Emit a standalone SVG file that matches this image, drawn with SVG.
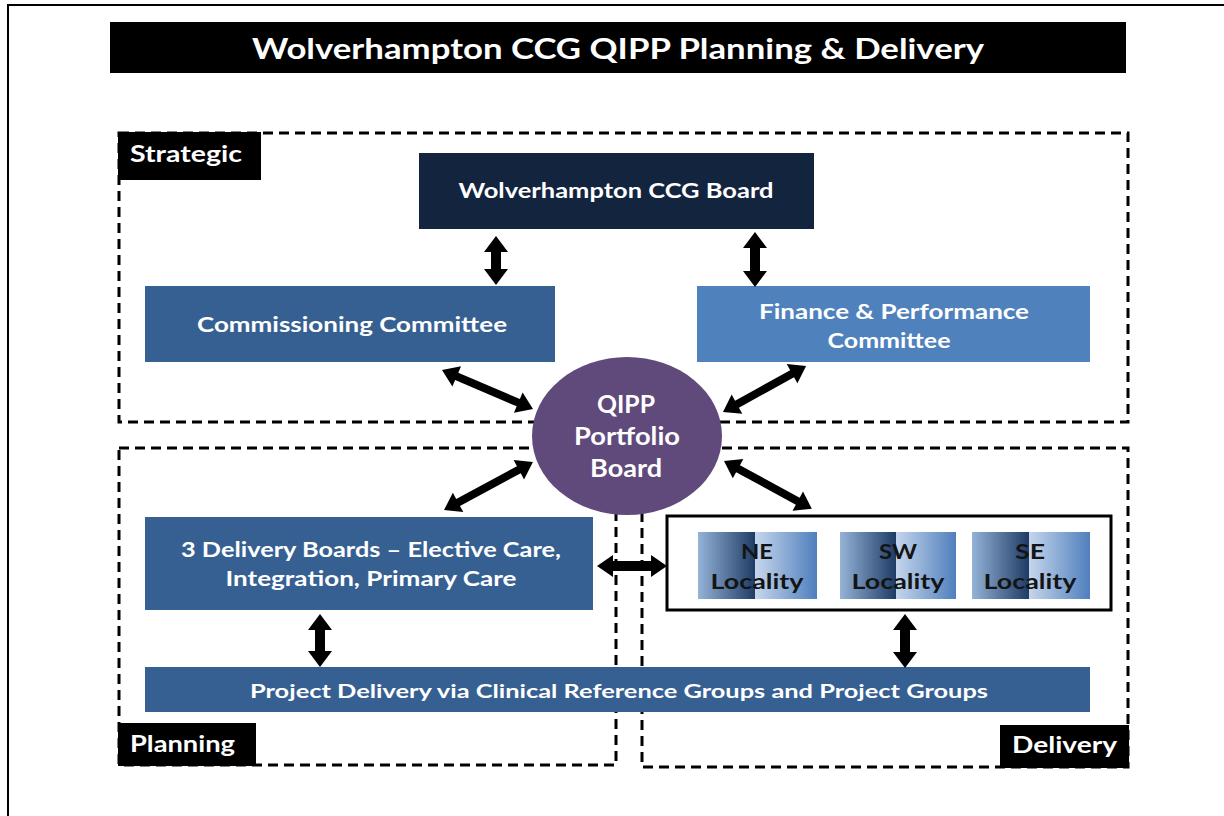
<svg xmlns="http://www.w3.org/2000/svg" width="1224" height="816" viewBox="0 0 1224 816">
  <style>
    text { font-family: Lato, "Liberation Sans", sans-serif; font-weight: bold; }
    .wt { fill: #ffffff; }
    .bk { fill: #141414; }
    .zone { fill: none; stroke: #000; stroke-width: 3; stroke-dasharray: 10 6; }
    .tag { fill: #000; }
    .arrow { fill: #000; }
    .mid { fill: #376092; }
  </style>
  <defs>
    <linearGradient id="loc" x1="0" y1="0" x2="1" y2="0">
      <stop offset="0" stop-color="#95b3d7"/>
      <stop offset="0.48" stop-color="#1f3c66"/>
      <stop offset="0.48" stop-color="#c6d6ec"/>
      <stop offset="1" stop-color="#4f7fbd"/>
    </linearGradient>
  </defs>

  <!-- page frame -->
  <path d="M8,816 V5 H1224" fill="none" stroke="#000" stroke-width="2"/>

  <!-- title bar -->
  <g id="title">
    <rect x="110" y="22" width="1016" height="51" fill="#000"/>
    <text x="618" y="59" font-size="28" text-anchor="middle" class="wt" textLength="732" lengthAdjust="spacingAndGlyphs">Wolverhampton CCG QIPP Planning  &amp; Delivery</text>
  </g>

  <!-- zones -->
  <g id="zone-strategic">
    <rect class="zone" x="119" y="133" width="1009" height="289"/>
    <rect class="tag" x="118" y="132" width="143" height="48"/>
    <text x="130" y="162" font-size="22" class="wt" textLength="112" lengthAdjust="spacingAndGlyphs">Strategic</text>
  </g>
  <g id="zone-planning">
    <rect class="zone" x="119" y="448" width="497" height="317"/>
    <rect class="tag" x="118" y="723" width="138" height="43"/>
    <text x="130" y="752" font-size="22" class="wt" textLength="105" lengthAdjust="spacingAndGlyphs">Planning</text>
  </g>
  <g id="zone-delivery">
    <rect class="zone" x="642" y="448" width="486" height="319"/>
    <rect class="tag" x="1000" y="725" width="129" height="43"/>
    <text x="1012" y="753" font-size="22" class="wt" textLength="105" lengthAdjust="spacingAndGlyphs">Delivery</text>
  </g>

  <!-- nodes -->
  <g id="ccg-board">
    <rect x="419" y="153" width="395" height="76" fill="#13243f"/>
    <text x="616" y="198" font-size="20" text-anchor="middle" class="wt" textLength="315" lengthAdjust="spacingAndGlyphs">Wolverhampton CCG Board</text>
  </g>
  <g id="commissioning">
    <rect class="mid" x="145" y="286" width="410" height="76"/>
    <text x="352" y="332" font-size="20" text-anchor="middle" class="wt" textLength="310" lengthAdjust="spacingAndGlyphs">Commissioning Committee</text>
  </g>
  <g id="finance">
    <rect x="697" y="286" width="393" height="76" fill="#4f81bd"/>
    <text x="894" y="319" font-size="20" text-anchor="middle" class="wt" textLength="270" lengthAdjust="spacingAndGlyphs">Finance &amp; Performance</text>
    <text x="889" y="348" font-size="20" text-anchor="middle" class="wt" textLength="123" lengthAdjust="spacingAndGlyphs">Committee</text>
  </g>
  <g id="qipp">
    <ellipse cx="627" cy="436" rx="95" ry="79" fill="#604a7b"/>
    <text x="626" y="413" font-size="24" text-anchor="middle" class="wt" textLength="58" lengthAdjust="spacingAndGlyphs">QIPP</text>
    <text x="627" y="445" font-size="24" text-anchor="middle" class="wt" textLength="106" lengthAdjust="spacingAndGlyphs">Portfolio</text>
    <text x="626" y="477" font-size="24" text-anchor="middle" class="wt" textLength="72" lengthAdjust="spacingAndGlyphs">Board</text>
  </g>
  <g id="delivery-boards">
    <rect class="mid" x="145" y="517" width="448" height="93"/>
    <text x="371" y="557" font-size="20" text-anchor="middle" class="wt" textLength="380" lengthAdjust="spacingAndGlyphs">3 Delivery Boards – Elective Care,</text>
    <text x="371" y="586" font-size="20" text-anchor="middle" class="wt" textLength="291" lengthAdjust="spacingAndGlyphs">Integration, Primary Care</text>
  </g>
  <g id="localities">
    <rect x="667" y="516" width="444" height="94" fill="#fff" stroke="#000" stroke-width="3"/>
    <g id="ne-locality">
      <rect x="698" y="532" width="119" height="67" fill="url(#loc)"/>
      <text x="757" y="559" font-size="21" text-anchor="middle" class="bk" textLength="32" lengthAdjust="spacingAndGlyphs">NE</text>
      <text x="757" y="589" font-size="21" text-anchor="middle" class="bk" textLength="93" lengthAdjust="spacingAndGlyphs">Locality</text>
    </g>
    <g id="sw-locality">
      <rect x="840" y="532" width="116" height="67" fill="url(#loc)"/>
      <text x="898" y="559" font-size="21" text-anchor="middle" class="bk" textLength="38" lengthAdjust="spacingAndGlyphs">SW</text>
      <text x="898" y="589" font-size="21" text-anchor="middle" class="bk" textLength="93" lengthAdjust="spacingAndGlyphs">Locality</text>
    </g>
    <g id="se-locality">
      <rect x="972" y="532" width="118" height="67" fill="url(#loc)"/>
      <text x="1030" y="559" font-size="21" text-anchor="middle" class="bk" textLength="30" lengthAdjust="spacingAndGlyphs">SE</text>
      <text x="1030" y="589" font-size="21" text-anchor="middle" class="bk" textLength="93" lengthAdjust="spacingAndGlyphs">Locality</text>
    </g>
  </g>
  <g id="project-delivery">
    <rect class="mid" x="145" y="667" width="945" height="45"/>
    <text x="619" y="698" font-size="19" text-anchor="middle" class="wt" textLength="738" lengthAdjust="spacingAndGlyphs">Project Delivery via Clinical Reference Groups and Project Groups</text>
  </g>

  <!-- connectors: double-headed block arrows, drawn along +x then placed -->
  <g id="connectors">
    <path class="arrow" transform="translate(496,236) rotate(90)" d="M0,0 L16,-12 L16,-5 L33,-5 L33,-12 L49,0 L33,12 L33,5 L16,5 L16,12 Z"/>
    <path class="arrow" transform="translate(755,232) rotate(90)" d="M0,0 L16,-12 L16,-5 L39,-5 L39,-12 L55,0 L39,12 L39,5 L16,5 L16,12 Z"/>
    <path class="arrow" transform="translate(442,370) rotate(23.2)" d="M0,0 L16,-11 L16,-4 L83,-4 L83,-11 L99,0 L83,11 L83,4 L16,4 L16,11 Z"/>
    <path class="arrow" transform="translate(723,412) rotate(-29)" d="M0,0 L16,-11 L16,-4 L79,-4 L79,-11 L95,0 L79,11 L79,4 L16,4 L16,11 Z"/>
    <path class="arrow" transform="translate(444,510) rotate(-28.3)" d="M0,0 L16,-11 L16,-4 L85,-4 L85,-11 L101,0 L85,11 L85,4 L16,4 L16,11 Z"/>
    <path class="arrow" transform="translate(724,461) rotate(28.6)" d="M0,0 L16,-11 L16,-4 L84,-4 L84,-11 L100,0 L84,11 L84,4 L16,4 L16,11 Z"/>
    <path class="arrow" transform="translate(597,566)" d="M0,0 L16,-11 L16,-5 L54,-5 L54,-11 L70,0 L54,11 L54,5 L16,5 L16,11 Z"/>
    <path class="arrow" transform="translate(320,614) rotate(90)" d="M0,0 L16,-12 L16,-5 L37,-5 L37,-12 L53,0 L37,12 L37,5 L16,5 L16,12 Z"/>
    <path class="arrow" transform="translate(905,614) rotate(90)" d="M0,0 L16,-12 L16,-5 L38,-5 L38,-12 L54,0 L38,12 L38,5 L16,5 L16,12 Z"/>
  </g>
</svg>
